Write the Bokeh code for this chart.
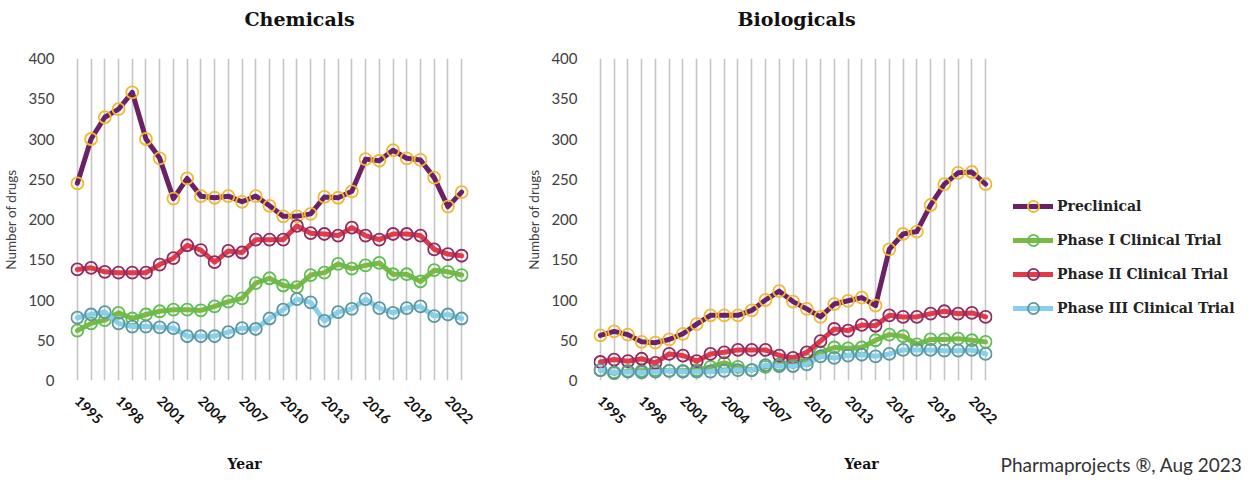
import math
from bokeh.plotting import figure
from bokeh.models import FixedTicker, Legend, LegendItem, Range1d, Title
from bokeh.layouts import row
from bokeh.embed import file_html
from bokeh.resources import INLINE

years = list(range(1995, 2024))
tick_years = list(range(1995, 2023, 3))
y_ticks = [0, 50, 100, 150, 200, 250, 300, 350, 400]

series_names = ["Preclinical", "Phase I Clinical Trial", "Phase II Clinical Trial", "Phase III Clinical Trial"]

chem_pre = [245, 300, 327, 337, 358, 300, 276, 226, 251, 229, 227, 229, 222, 229, 217,
            204, 204, 207, 228, 227, 235, 275, 273, 286, 276, 274, 252, 216, 234]
chem_p1 = [62, 71, 75, 84, 77, 82, 86, 88, 88, 87, 92, 98, 102, 121, 127,
           118, 116, 131, 134, 145, 139, 143, 146, 132, 132, 123, 137, 135, 131]
chem_p2 = [138, 140, 135, 134, 134, 134, 144, 152, 168, 162, 147, 161, 159, 175, 175,
           175, 192, 183, 182, 180, 190, 180, 175, 182, 182, 180, 163, 157, 155]
chem_p3 = [78, 82, 85, 71, 67, 67, 66, 65, 55, 55, 55, 60, 65, 64, 77,
           88, 101, 97, 74, 85, 89, 101, 90, 84, 90, 92, 80, 82, 77]

bio_pre = [56, 61, 57, 48, 47, 51, 58, 70, 81, 81, 81, 87, 100, 111, 98,
           89, 79, 95, 99, 103, 93, 163, 182, 185, 218, 244, 258, 259, 244]
bio_p1 = [13, 9, 12, 12, 13, 12, 12, 13, 17, 22, 17, 13, 17, 20, 23,
          25, 35, 41, 40, 41, 50, 57, 55, 45, 51, 51, 52, 50, 48]
bio_p2 = [23, 26, 24, 27, 22, 33, 31, 24, 33, 35, 38, 38, 38, 31, 28,
          35, 49, 64, 62, 69, 68, 81, 79, 79, 83, 86, 83, 84, 79]
bio_p3 = [13, 10, 11, 10, 11, 12, 11, 11, 11, 12, 13, 13, 19, 18, 18,
          20, 30, 28, 31, 32, 30, 33, 38, 38, 38, 37, 37, 38, 33]

line_colors = ["#6B2166", "#7DB843", "#E23A48", "#88CFEC"]
marker_colors = ["#F2B831", "#5CBE52", "#8E2B62", "#5B97A0"]

SANS = "Lato"
SERIF = "DejaVu Serif"
H = 481
TOP = 58
BOTTOM = 101


def draw_series(p, series):
    items = []
    for name, vals, lc, mc in zip(series_names, series, line_colors, marker_colors):
        lr = p.line(years, vals, line_color=lc, line_width=5, line_join="round", line_cap="round")
        sr = p.scatter(years, vals, marker="circle", size=12, fill_color=None,
                       line_color=mc, line_width=1.8)
        items.append(LegendItem(label=name, renderers=[lr, sr]))
    return items


def make_fig(title, series, width, bl, br, title_offset, year_offset):
    p = figure(width=width, height=H, output_backend="svg", toolbar_location=None,
               x_range=Range1d(1994.5, 2023.5), y_range=Range1d(0, 400),
               min_border_left=bl, min_border_right=br, min_border_top=TOP, min_border_bottom=BOTTOM)
    p.outline_line_color = None
    p.background_fill_color = "white"
    p.border_fill_color = "white"
    p.title.text = title + "\n"
    p.title.align = "left"
    p.title.vertical_align = "top"
    p.title.offset = title_offset
    p.title.standoff = 10
    p.title.text_font = SERIF
    p.title.text_font_style = "bold"
    p.title.text_font_size = "19px"
    p.title.text_color = "#111111"

    p.xgrid.ticker = FixedTicker(ticks=years)
    p.xgrid.grid_line_color = "#C6C6C6"
    p.xgrid.grid_line_width = 1.6
    p.ygrid.grid_line_color = None

    xa = p.xaxis[0]
    xa.ticker = FixedTicker(ticks=tick_years)
    xa.major_label_overrides = {y: str(y) for y in tick_years}
    xa.major_label_orientation = -math.pi / 4
    xa.axis_line_color = None
    xa.major_tick_line_color = None
    xa.minor_tick_line_color = None
    xa.major_label_standoff = 12
    xa.major_label_text_font = SANS
    xa.major_label_text_font_style = "bold"
    xa.major_label_text_font_size = "14px"
    xa.major_label_text_color = "#111111"

    ya = p.yaxis[0]
    ya.ticker = FixedTicker(ticks=y_ticks)
    ya.axis_line_color = None
    ya.major_tick_line_color = None
    ya.minor_tick_line_color = None
    ya.major_label_standoff = 10
    ya.major_label_text_font = SANS
    ya.major_label_text_font_size = "15px"
    ya.major_label_text_color = "#404040"
    ya.axis_label = "Number of drugs"
    ya.axis_label_standoff = 6
    ya.axis_label_text_font = SANS
    ya.axis_label_text_font_style = "normal"
    ya.axis_label_text_font_size = "13.5px"
    ya.axis_label_text_color = "#404040"

    p.add_layout(Title(text="\nYear", align="left", vertical_align="bottom", offset=year_offset,
                       standoff=12, text_font=SERIF, text_font_style="bold",
                       text_font_size="14px", text_color="#111111"), "below")
    items = draw_series(p, series)
    return p, items


p1, _ = make_fig("Chemicals", [chem_pre, chem_p1, chem_p2, chem_p3], 523, 70, 55, 174, 157)
p2, _ = make_fig("Biologicals", [bio_pre, bio_p1, bio_p2, bio_p3], 477, 70, 8, 144, 251)

# legend panel (the series are drawn outside its visible ranges; only the legend shows)
p3 = figure(width=250, height=H, output_backend="svg", toolbar_location=None,
            x_range=Range1d(0, 1), y_range=Range1d(0, 1), y_axis_location=None,
            min_border_left=0, min_border_right=8, min_border_top=TOP, min_border_bottom=BOTTOM)
p3.outline_line_color = None
p3.xgrid.grid_line_color = None
p3.ygrid.grid_line_color = None
xa3 = p3.xaxis[0]
xa3.ticker = FixedTicker(ticks=[])
xa3.axis_line_color = None
xa3.major_tick_line_color = None
xa3.minor_tick_line_color = None
xa3.major_tick_out = 0
xa3.major_label_standoff = 0
xa3.axis_label = "Pharmaprojects \u00ae, Aug 2023"
xa3.axis_label_standoff = 72
xa3.axis_label_text_font = SANS
xa3.axis_label_text_font_style = "normal"
xa3.axis_label_text_font_size = "19px"
xa3.axis_label_text_color = "#333333"

items = draw_series(p3, [bio_pre, bio_p1, bio_p2, bio_p3])
legend = Legend(items=items, location=(13, 58), orientation="vertical",
                glyph_width=40, glyph_height=28, spacing=6, padding=0, margin=0,
                label_standoff=4, label_text_font=SERIF, label_text_font_style="bold",
                label_text_font_size="14px", label_text_color="#222222",
                border_line_color=None, background_fill_alpha=0)
p3.add_layout(legend, "center")

layout = row(p1, p2, p3)
open("out.html", "w").write(file_html(layout, INLINE))
